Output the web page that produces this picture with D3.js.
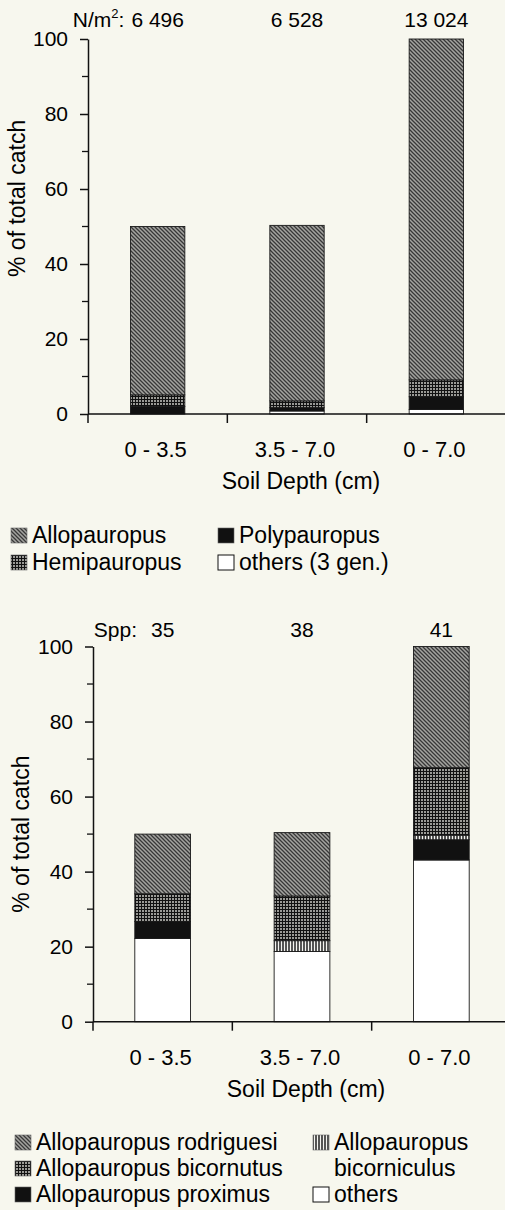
<!DOCTYPE html>
<html>
<head>
<meta charset="utf-8">
<script src="https://cdn.jsdelivr.net/npm/d3@7"></script>
<style>
	body { margin: 0; background: #f7f7ee; }
	svg { display: block; }
	text { font-family: "Liberation Sans", Arial, Helvetica, sans-serif; fill: #000; }
</style>
</head>
<body>
<div id="chart"></div>
<script>
"use strict";

//
// Data
//
var depthCats = ["0 - 3.5", "3.5 - 7.0", "0 - 7.0"];

// upper panel: genera, % of total catch (stacked bottom -> top)
var densityLabels = ["6 496", "6 528", "13 024"];
var genOthers = [0, 0.8, 1.2];
var genPoly = [2.0, 0.9, 3.4];
var genHemi = [3.1, 1.8, 4.5];
var genAllo = [44.9, 46.8, 90.9];

// lower panel: species, % of total catch (stacked bottom -> top)
var sppLabels = ["35", "38", "41"];
var spOthers = [22.2, 18.7, 43.1];
var spProximus = [4.5, 0, 5.4];
var spBicorniculus = [0, 2.9, 1.2];
var spBicornutus = [7.4, 11.9, 18.0];
var spRodriguesi = [15.9, 16.9, 32.3];

var yMajor = [0, 20, 40, 60, 80, 100];
var yMinor = [10, 30, 50, 70, 90];

var W = 505, H = 1210;

var svg = d3.select("#chart")
	.append("svg")
		.attr("width", W)
		.attr("height", H);

//
// Fill patterns
//
var defs = svg.append("defs");

var pDiag = defs.append("pattern")
	.attr("id", "diag")
	.attr("patternUnits", "userSpaceOnUse")
	.attr("width", 4).attr("height", 4);
pDiag.append("rect").attr("width", 4).attr("height", 4).attr("fill", "#a4a4a0");
pDiag.append("path").attr("d", "M-1,-1L5,5M3,-1L5,1M-1,3L1,5")
	.attr("stroke", "#383838").attr("stroke-width", 1.3);

var pCross = defs.append("pattern")
	.attr("id", "cross")
	.attr("patternUnits", "userSpaceOnUse")
	.attr("width", 3).attr("height", 3);
pCross.append("rect").attr("width", 3).attr("height", 3).attr("fill", "#9a9a96");
pCross.append("path").attr("d", "M0,0.5H3M0.5,0V3")
	.attr("stroke", "#111").attr("stroke-width", 1);

var pVert = defs.append("pattern")
	.attr("id", "vert")
	.attr("patternUnits", "userSpaceOnUse")
	.attr("width", 3).attr("height", 3);
pVert.append("rect").attr("width", 3).attr("height", 3).attr("fill", "#f4f4f0");
pVert.append("path").attr("d", "M1,0V3")
	.attr("stroke", "#111").attr("stroke-width", 1.4);

var fills = {
	allo: "url(#diag)", hemi: "url(#cross)", poly: "#111", others: "#fff",
	rodriguesi: "url(#diag)", bicornutus: "url(#cross)", proximus: "#111",
	bicorniculus: "url(#vert)"
};

//
// Panel drawing
//
function drawPanel(p) {
	var g = svg.append("g");

	var keys = p.series.map(function(s) { return s.key; });
	var table = depthCats.map(function(c, i) {
		var row = { cat: c };
		p.series.forEach(function(s) { row[s.key] = s.values[i]; });
		return row;
	});
	var stacked = d3.stack().keys(keys)(table);

	var y = d3.scaleLinear().domain([0, 100]).range([p.y0, p.y100]);
	var xOuter = d3.scaleBand().domain(depthCats).range(p.xRange).padding(0);
	var xBar = d3.scaleBand().domain(depthCats).range(p.xRange)
		.paddingInner(p.pad).paddingOuter(p.pad / 2);

	// bars
	g.selectAll(".layer")
		.data(stacked)
		.enter().append("g")
			.attr("class", "layer")
			.attr("fill", function(d) { return fills[d.key]; })
		.selectAll("rect")
		.data(function(d) { return d.filter(function(s) { return s[1] - s[0] > 0; }); })
		.enter().append("rect")
			.attr("x", function(d) { return xBar(d.data.cat); })
			.attr("width", xBar.bandwidth())
			.attr("y", function(d) { return y(d[1]); })
			.attr("height", function(d) { return y(d[0]) - y(d[1]); })
			.attr("stroke", "#1a1a1a")
			.attr("stroke-width", 0.9);

	// y axis
	var yAxis = g.append("g")
		.attr("transform", "translate(" + p.xRange[0] + ",0)")
		.call(d3.axisLeft(y).tickValues(yMajor).tickSize(8).tickSizeOuter(0).tickPadding(12));
	yAxis.selectAll("text").attr("font-size", 21).attr("font-family", null);
	yAxis.selectAll("line, path").attr("stroke", "#111").attr("stroke-width", 1.5);

	g.append("g")
		.attr("transform", "translate(" + p.xRange[0] + ",0)")
		.selectAll("line")
		.data(yMinor)
		.enter().append("line")
			.attr("x1", -6).attr("x2", 0)
			.attr("y1", function(d) { return y(d); })
			.attr("y2", function(d) { return y(d); })
			.attr("stroke", "#111").attr("stroke-width", 1.3);

	// x axis
	g.append("line")
		.attr("x1", p.xRange[0]).attr("x2", W)
		.attr("y1", y(0)).attr("y2", y(0))
		.attr("stroke", "#111").attr("stroke-width", 1.5);
	g.selectAll(".xtick")
		.data(depthCats)
		.enter().append("line")
			.attr("class", "xtick")
			.attr("x1", function(d) { return xOuter(d); })
			.attr("x2", function(d) { return xOuter(d); })
			.attr("y1", y(0)).attr("y2", y(0) + 9)
			.attr("stroke", "#111").attr("stroke-width", 1.5);
	g.selectAll(".xlab")
		.data(depthCats)
		.enter().append("text")
			.attr("class", "xlab")
			.attr("x", function(d) { return xBar(d) + xBar.bandwidth() / 2 - 2; })
			.attr("y", y(0) + 43)
			.attr("text-anchor", "middle")
			.attr("font-size", 22)
			.text(function(d) { return d; });

	g.append("text")
		.attr("x", xOuter(depthCats[1]) + xOuter.bandwidth() / 2 + 4)
		.attr("y", y(0) + 75)
		.attr("text-anchor", "middle")
		.attr("font-size", 23)
		.text("Soil Depth (cm)");

	g.append("text")
		.attr("transform", "translate(" + p.yTitleX + "," + y(p.yTitleAt) + ") rotate(-90)")
		.attr("text-anchor", "middle")
		.attr("dy", "0.35em")
		.attr("font-size", 23)
		.text("% of total catch");

	// labels above bars
	var tops = g.selectAll(".toplab")
		.data(p.topLabels)
		.enter().append("text")
			.attr("class", "toplab")
			.attr("x", function(d, i) { return xBar(depthCats[i]) + xBar.bandwidth() / 2; })
			.attr("y", y(100) - p.topGap)
			.attr("text-anchor", "middle")
			.attr("font-size", 21)
			.text(function(d) { return d; });

	var first = tops.node().getBBox();
	var pre = g.append("text")
		.attr("x", first.x - p.preGap)
		.attr("y", y(100) - p.topGap)
		.attr("text-anchor", "end")
		.attr("font-size", 21);
	p.prefix(pre);

	// legend
	p.legend.forEach(function(item) {
		var sx = p.legCols[item.col];
		var by = p.legRows[item.row];
		g.append("rect")
			.attr("x", sx).attr("y", by - 15)
			.attr("width", 16).attr("height", 15)
			.attr("fill", fills[item.key])
			.attr("stroke", item.key === "others" ? "#111" : "#666")
			.attr("stroke-width", item.key === "others" ? 1 : 0.6);
		item.lines.forEach(function(line, li) {
			g.append("text")
				.attr("x", sx + 21)
				.attr("y", p.legRows[item.row + li])
				.attr("font-size", 23)
				.text(line);
		});
	});
}

//
// Upper panel (genera)
//
drawPanel({
	y0: 414, y100: 39,
	xRange: [88, 506], pad: 0.61,
	series: [
		{ key: "others", values: genOthers },
		{ key: "poly", values: genPoly },
		{ key: "hemi", values: genHemi },
		{ key: "allo", values: genAllo }
	],
	topLabels: densityLabels, topGap: 12, preGap: 7,
	prefix: function(t) {
		t.append("tspan").text("N/m");
		t.append("tspan").attr("dy", -9).attr("font-size", 13).text("2");
		t.append("tspan").attr("dy", 9).text(":");
	},
	yTitleX: 17, yTitleAt: 57.5,
	legCols: [11, 218], legRows: [543, 570],
	legend: [
		{ key: "allo", col: 0, row: 0, lines: ["Allopauropus"] },
		{ key: "hemi", col: 0, row: 1, lines: ["Hemipauropus"] },
		{ key: "poly", col: 1, row: 0, lines: ["Polypauropus"] },
		{ key: "others", col: 1, row: 1, lines: ["others (3 gen.)"] }
	]
});

//
// Lower panel (species)
//
drawPanel({
	y0: 1021.7, y100: 646.5,
	xRange: [93, 511], pad: 0.6,
	series: [
		{ key: "others", values: spOthers },
		{ key: "proximus", values: spProximus },
		{ key: "bicorniculus", values: spBicorniculus },
		{ key: "bicornutus", values: spBicornutus },
		{ key: "rodriguesi", values: spRodriguesi }
	],
	topLabels: sppLabels, topGap: 10, preGap: 14,
	prefix: function(t) { t.text("Spp:"); },
	yTitleX: 21, yTitleAt: 50,
	legCols: [15, 313], legRows: [1150, 1176, 1202],
	legend: [
		{ key: "rodriguesi", col: 0, row: 0, lines: ["Allopauropus rodriguesi"] },
		{ key: "bicornutus", col: 0, row: 1, lines: ["Allopauropus bicornutus"] },
		{ key: "proximus", col: 0, row: 2, lines: ["Allopauropus proximus"] },
		{ key: "bicorniculus", col: 1, row: 0, lines: ["Allopauropus", "bicorniculus"] },
		{ key: "others", col: 1, row: 2, lines: ["others"] }
	]
});
</script>
</body>
</html>
